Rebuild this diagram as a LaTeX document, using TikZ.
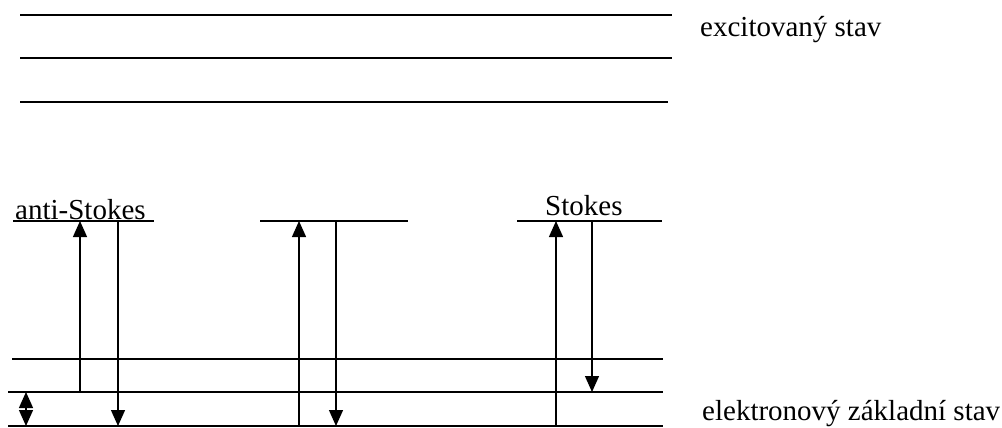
\documentclass[tikz,border=0pt]{standalone}
\usepackage{fontspec}
\setmainfont{Liberation Serif}
\usetikzlibrary{arrows.meta}
\begin{document}
\begin{tikzpicture}[x=1pt,y=-1pt,
  level/.style={line width=1.3pt},
  tip/.tip={Triangle[length=16pt,width=14pt]},
  trans/.style={line width=1.3pt,-tip},
  both/.style={line width=1.3pt,tip-tip},
  lbl/.style={inner sep=0pt,anchor=base west,font=\fontsize{29}{34}\selectfont}]
\useasboundingbox (0,0) rectangle (1002,428);
% excited state levels
\coordinate (e1a) at (20,15);  \coordinate (e1b) at (672,15);
\coordinate (e2a) at (20,58);  \coordinate (e2b) at (672,58);
\coordinate (e3a) at (20,102); \coordinate (e3b) at (668,102);
\draw[level] (e1a) -- (e1b);
\draw[level] (e2a) -- (e2b);
\draw[level] (e3a) -- (e3b);
% virtual levels
\coordinate (vAa) at (13,221);  \coordinate (vAb) at (154,221);
\coordinate (vBa) at (260,221); \coordinate (vBb) at (408,221);
\coordinate (vCa) at (517,221); \coordinate (vCb) at (662,221);
\draw[level] (vAa) -- (vAb);
\draw[level] (vBa) -- (vBb);
\draw[level] (vCa) -- (vCb);
% ground state levels
\coordinate (g2a) at (12,359); \coordinate (g2b) at (663,359);
\coordinate (g1a) at (8,392);  \coordinate (g1b) at (663,392);
\coordinate (g0a) at (8,426);  \coordinate (g0b) at (663,426);
\draw[level] (g2a) -- (g2b);
\draw[level] (g1a) -- (g1b);
\draw[level] (g0a) -- (g0b);
% labels
\node[lbl] (exc) at (700,37) {excitovaný stav};
\node[lbl] (gnd) at (702,420) {elektronový základní stav};
\node[lbl] (as) at (15,219) {anti-Stokes};
\node[lbl] (st) at (545,215) {Stokes};
% transitions
\coordinate (a1s) at (80,392);  \coordinate (a1e) at (80,221);
\coordinate (a2s) at (118,221); \coordinate (a2e) at (118,426);
\coordinate (d1) at (26,392);   \coordinate (d2) at (26,426);
\coordinate (b1s) at (299,426); \coordinate (b1e) at (299,221);
\coordinate (b2s) at (336,221); \coordinate (b2e) at (336,426);
\coordinate (c1s) at (556,426); \coordinate (c1e) at (556,221);
\coordinate (c2s) at (592,221); \coordinate (c2e) at (592,392);
\draw[trans] (a1s) -- (a1e);
\draw[trans] (a2s) -- (a2e);
\draw[both] (d1) -- (d2);
\draw[trans] (b1s) -- (b1e);
\draw[trans] (b2s) -- (b2e);
\draw[trans] (c1s) -- (c1e);
\draw[trans] (c2s) -- (c2e);
\end{tikzpicture}
\end{document}
